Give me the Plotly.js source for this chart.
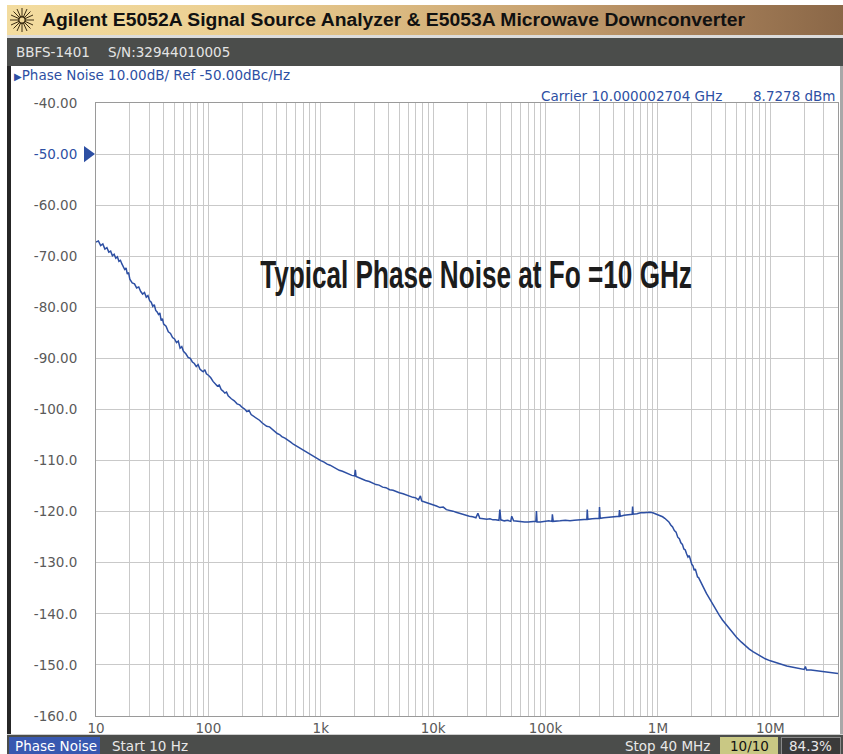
<!DOCTYPE html>
<html><head><meta charset="utf-8">
<script src="https://cdn.plot.ly/plotly-3.0.1.min.js"></script>
<style>
body{margin:0;background:#fff;}
#wrap{position:relative;width:843px;height:754px;overflow:hidden;background:#fff;}
.layer{position:absolute;}
#chart{position:absolute;left:0;top:0;width:843px;height:754px;}
</style></head><body>
<div id="wrap">
 <div class="layer" style="left:7px;top:5px;width:836px;height:30px;background:linear-gradient(to right,#f3dc9f 0%,#ecd093 25%,#dcbb82 45%,#c6a06f 65%,#a8815a 82%,#8a6747 100%);"></div>
 <div class="layer" style="left:7px;top:35px;width:836px;height:3px;background:#dcdcdc;"></div>
 <div class="layer" style="left:7px;top:38px;width:836px;height:28px;background:#4b4d4b;"></div>
 <div class="layer" style="left:7px;top:66px;width:4px;height:669px;background:#262626;"></div>
 <div class="layer" style="left:840px;top:66px;width:3px;height:669px;background:#a8a8a8;"></div>
 <div class="layer" style="left:7px;top:734px;width:836px;height:1px;background:#cfcfcf;"></div>
 <div class="layer" style="left:7px;top:735px;width:836px;height:19px;background:#4b4d4b;"></div>
 <div class="layer" style="left:9px;top:737px;width:91px;height:17px;background:#3858b0;"></div>
 <div class="layer" style="left:720px;top:737px;width:58px;height:17px;background:#c9c884;"></div>
 <div class="layer" style="left:781px;top:737px;width:58px;height:16px;background:#3a3a3a;border:1px solid #8a8a8a;"></div>
 <svg class="layer" style="left:8px;top:6px;" width="28" height="28" viewBox="0 0 28 28">
  <g stroke="#3b2c12" stroke-width="1" fill="none">
   <line x1="14" y1="2" x2="14" y2="26"/><line x1="2" y1="14" x2="26" y2="14"/>
   <line x1="5.5" y1="5.5" x2="22.5" y2="22.5"/><line x1="22.5" y1="5.5" x2="5.5" y2="22.5"/>
   <line x1="9" y1="3" x2="19" y2="25"/><line x1="19" y1="3" x2="9" y2="25"/>
   <line x1="3" y1="9" x2="25" y2="19"/><line x1="3" y1="19" x2="25" y2="9"/>
   <circle cx="14" cy="14" r="3.2" fill="#f0d898" stroke-width="1.4"/>
  </g>
 </svg>
 <div id="chart"></div>
</div>
<script>
// ---- data ----
const freqHz = [
 10,10.5,11,11.5,12,12.5,13,13.5,14,14.5,15,15.5,16,16.5,17,17.5,18,18.5,19,19.5,
 20,21,22,23,24,25,26,27,28,29,30,31,32,33,34,35,36,37,38,39,
 40,42,44,46,48,50,52,54,56,58,60,63,66,69,72,75,78,81,84,87,90,93,96,
 100,105,110,115,120,125,130,135,140,145,150,160,170,180,190,200,210,220,230,240,
 255,270,285,300,315,330,350,370,390,410,430,450,480,510,540,570,600,640,680,720,
 760,800,850,900,950,
 1000,1070,1140,1210,1290,1370,1460,1560,1660,1770,1890,2000,2030,2060,2200,2350,2500,2700,2900,3100,
 3300,3550,3800,4100,4400,4700,5000,5400,5800,6200,6600,7000,7400,7700,7900,8400,9000,9500,
 10000,10700,11500,12300,13100,14000,15000,16000,17000,18300,19600,21000,22500,24000,25000,26000,28000,30000,32000,34000,
 36000,38500,39200,40000,43000,46000,49000,50000,52000,56000,60000,65000,70000,75000,82000,83000,84000,90000,95000,
 100000,107000,114000,115000,117000,125000,135000,150000,165000,180000,200000,215000,233000,235000,238000,260000,280000,300000,302000,306000,
 330000,360000,400000,430000,450000,455000,462000,500000,550000,590000,595000,602000,650000,700000,750000,800000,850000,900000,950000,
 1.0e6,1.05e6,1.1e6,1.15e6,1.2e6,1.25e6,1.3e6,1.35e6,1.4e6,1.45e6,1.5e6,1.55e6,1.6e6,1.65e6,1.7e6,1.75e6,1.8e6,1.85e6,1.9e6,1.95e6,
 2.0e6,2.05e6,2.1e6,2.15e6,2.2e6,2.25e6,2.3e6,2.4e6,2.5e6,2.6e6,2.7e6,2.8e6,2.9e6,3.0e6,3.25e6,3.5e6,3.75e6,4.0e6,4.5e6,5.0e6,
 5.5e6,6.0e6,6.5e6,7.0e6,7.5e6,8.0e6,9.0e6,
 10e6,11e6,12e6,13e6,14e6,15.5e6,17e6,18.5e6,20e6,20.5e6,21e6,23e6,25e6,28e6,30e6,33e6,35e6,37e6,40e6
];
const phaseNoiseDbcHz = [
 -67.2,-67.0,-67.9,-67.6,-68.6,-68.3,-69.2,-69.0,-69.9,-69.6,-70.4,-70.1,-71.0,-70.8,-71.5,-72.2,-72.6,-72.3,-73.5,-73.2,
 -74.5,-75.2,-75.4,-76.2,-76.0,-76.9,-77.4,-77.1,-78.0,-77.7,-78.7,-79.0,-79.8,-79.5,-80.6,-80.9,-81.4,-81.1,-82.6,-82.2,
 -83.3,-83.7,-84.8,-85.1,-85.9,-86.2,-86.9,-86.6,-88.0,-87.7,-88.6,-89.1,-89.8,-90.0,-90.7,-91.0,-91.6,-91.2,-92.1,-92.4,-92.6,-92.2,-93.0,
 -93.3,-93.8,-94.5,-94.9,-95.4,-95.2,-96.1,-96.4,-96.8,-96.6,-97.3,-97.9,-98.3,-98.9,-99.1,-99.6,-99.9,-100.4,-100.2,-101.0,
 -101.4,-101.7,-102.1,-102.6,-102.9,-103.3,-103.4,-103.9,-104.3,-104.7,-104.9,-105.3,-105.6,-106.1,-106.4,-106.8,-107.1,-107.4,-107.9,-108.2,
 -108.4,-108.8,-109.2,-109.4,-109.8,
 -110.0,-110.3,-110.7,-110.9,-111.3,-111.5,-111.9,-112.1,-112.4,-112.6,-112.9,-113.0,-111.8,-113.1,-113.4,-113.6,-113.9,-114.1,-114.4,-114.7,
 -114.8,-115.2,-115.3,-115.7,-115.8,-116.1,-116.3,-116.5,-116.8,-117.0,-117.2,-117.3,-117.7,-116.9,-117.9,-118.1,-118.3,-118.5,
 -118.6,-118.9,-119.2,-119.1,-119.6,-119.7,-119.9,-120.1,-120.3,-120.5,-120.7,-120.9,-121.0,-121.2,-120.3,-121.3,-121.4,-121.5,-121.4,-121.6,
 -121.6,-121.7,-119.6,-121.6,-121.8,-121.7,-121.9,-120.9,-121.8,-121.9,-121.9,-122.0,-122.0,-121.9,-121.9,-119.9,-122.0,-122.0,-121.9,
 -121.9,-121.8,-121.9,-120.5,-121.9,-121.8,-121.8,-121.7,-121.8,-121.7,-121.6,-121.6,-121.5,-119.6,-121.5,-121.4,-121.4,-121.3,-119.1,-121.3,
 -121.2,-121.1,-121.0,-120.9,-120.9,-119.7,-120.9,-120.7,-120.6,-120.5,-119.0,-120.5,-120.4,-120.2,-120.2,-120.1,-120.1,-120.2,-120.4,
 -120.6,-120.8,-121.0,-121.3,-121.6,-122.0,-122.6,-123.0,-123.7,-124.0,-125.0,-125.3,-126.1,-126.4,-127.3,-127.5,-128.3,-128.9,-128.6,-129.7,
 -130.3,-130.6,-131.5,-131.2,-132.2,-132.8,-132.9,-133.8,-134.5,-135.3,-136.0,-136.6,-137.2,-137.8,-139.0,-140.2,-141.2,-142.0,-143.4,-144.6,
 -145.5,-146.3,-146.9,-147.4,-147.8,-148.2,-148.8,
 -149.2,-149.5,-149.8,-150.0,-150.2,-150.4,-150.6,-150.8,-150.9,-150.3,-151.0,-151.0,-151.1,-151.2,-151.3,-151.4,-151.5,-151.5,-151.7
];
const yTickVals = [-40,-50,-60,-70,-80,-90,-100,-110,-120,-130,-140,-150,-160];
const yTickText = ['-40.00','<span style="color:#2d4fa3">-50.00</span>','-60.00','-70.00','-80.00','-90.00','-100.0','-110.0','-120.0','-130.0','-140.0','-150.0','-160.0'];
const xTickVals = [10,100,1000,10000,100000,1000000,10000000];
const xTickText = ['10','100','1k','10k','100k','1M','10M'];
const refLevel = -50;

// minor grid positions (2..9 per decade)
const minorVals = [];
for (let d = 1; d <= 7; d++) for (let m = 2; m <= 9; m++) { const v = m * Math.pow(10, d); if (v <= 4e7) minorVals.push(v); }

// pixel -> paper helpers for decorative text
const L = 96, R = 838, T = 103, B = 716;
const px = v => (v - L) / (R - L);
const py = v => (B - v) / (B - T);
const SMALL = {family: 'DejaVu Sans, Verdana, sans-serif', size: 13.5};
function ann(text, x, y, xanchor, color, font) {
  return {text: text, xref: 'paper', yref: 'paper', x: px(x), y: py(y), xanchor: xanchor, yanchor: 'middle',
          showarrow: false, font: Object.assign({}, font || SMALL, {color: color})};
}
const annotations = [
  ann('<b>Agilent E5052A Signal Source Analyzer &amp; E5053A Microwave Downconverter</b>', 393.5, 20, 'center', '#111111', {family: 'Liberation Sans, Arial, sans-serif', size: 17.5}),
  ann('BBFS-1401', 14, 52, 'left', '#e4e4e4'),
  ann('S/N:32944010005', 106, 52, 'left', '#e4e4e4'),
  ann('<span style="font-size:10px">\u25B6</span>Phase Noise 10.00dB/ Ref -50.00dBc/Hz', 12, 75, 'left', '#2d4fa3'),
  ann('Carrier 10.000002704 GHz', 724, 96, 'right', '#2d4fa3'),
  ann('8.7278 dBm', 838, 96, 'right', '#2d4fa3'),
  ann('<b>Typical Phase Noise at Fo =10 GHz</b>', 476, 274, 'center', '#1c1c1c', {family: 'Liberation Sans, Arial, sans-serif', size: 39}),
  ann('Phase Noise', 13, 746, 'left', '#ffffff'),
  ann('Start 10 Hz', 110, 746, 'left', '#e8e8e8'),
  ann('Stop 40 MHz', 712, 746, 'right', '#e8e8e8'),
  ann('10/10', 749, 746, 'center', '#111111'),
  ann('84.3%', 810, 746, 'center', '#e8e8e8')
];
const stretchTo = {0: 703};       // text length fit
const squeezeTo = {6: 432};       // horizontal squeeze (condensed look)

const trace = {
  x: freqHz, y: phaseNoiseDbcHz, type: 'scatter', mode: 'lines',
  line: {color: '#2d4fa3', width: 1.5}, hoverinfo: 'skip', showlegend: false
};
const layout = {
  width: 843, height: 754,
  margin: {l: L, r: 843 - R, t: T, b: 754 - B, pad: 0},
  paper_bgcolor: 'rgba(0,0,0,0)', plot_bgcolor: '#ffffff',
  showlegend: false,
  xaxis: {
    type: 'log', range: [1, Math.log10(4e7)], tickvals: xTickVals, ticktext: xTickText,
    showgrid: true, gridcolor: '#c9c9c9', gridwidth: 1,
    showline: true, linecolor: '#9a9a9a', linewidth: 1, mirror: true,
    ticks: '', ticklabelstandoff: 0, zeroline: false,
    tickfont: {family: 'DejaVu Sans, Verdana, sans-serif', size: 13.5, color: '#5a5a5a'},
    minor: {tickvals: minorVals, showgrid: true, gridcolor: '#c9c9c9', gridwidth: 1, ticks: ''}
  },
  yaxis: {
    range: [-160, -40], tickvals: yTickVals, ticktext: yTickText,
    showgrid: true, gridcolor: '#c9c9c9', gridwidth: 1,
    showline: true, linecolor: '#9a9a9a', linewidth: 1, mirror: true,
    ticks: '', ticklabelstandoff: 15, zeroline: false,
    tickfont: {family: 'DejaVu Sans, Verdana, sans-serif', size: 13.5, color: '#5a5a5a'}
  },
  shapes: [{
    type: 'path', xref: 'paper', yref: 'y', layer: 'above',
    path: 'M ' + px(84) + ',' + (refLevel + 1.6) + ' L ' + px(95) + ',' + refLevel + ' L ' + px(84) + ',' + (refLevel - 1.6) + ' Z',
    fillcolor: '#2d4fa3', line: {width: 0}
  }],
  annotations: annotations
};
Plotly.newPlot('chart', [trace], layout, {staticPlot: true, responsive: false, displayModeBar: false}).then(function () {
  Object.keys(stretchTo).forEach(function (i) {
    const t = document.querySelector('#chart g.annotation[data-index="' + i + '"] text.annotation-text');
    if (t) { t.setAttribute('textLength', stretchTo[i]); t.setAttribute('lengthAdjust', 'spacingAndGlyphs'); }
  });
  Object.keys(squeezeTo).forEach(function (i) {
    const t = document.querySelector('#chart g.annotation[data-index="' + i + '"] text.annotation-text');
    if (t) {
      const bb = t.getBBox();
      const cx = bb.x + bb.width / 2;
      const k = squeezeTo[i] / bb.width;
      t.setAttribute('transform', 'translate(' + cx + ',0) scale(' + k + ',1) translate(' + (-cx) + ',0)');
    }
  });
});
</script>
</body></html>
